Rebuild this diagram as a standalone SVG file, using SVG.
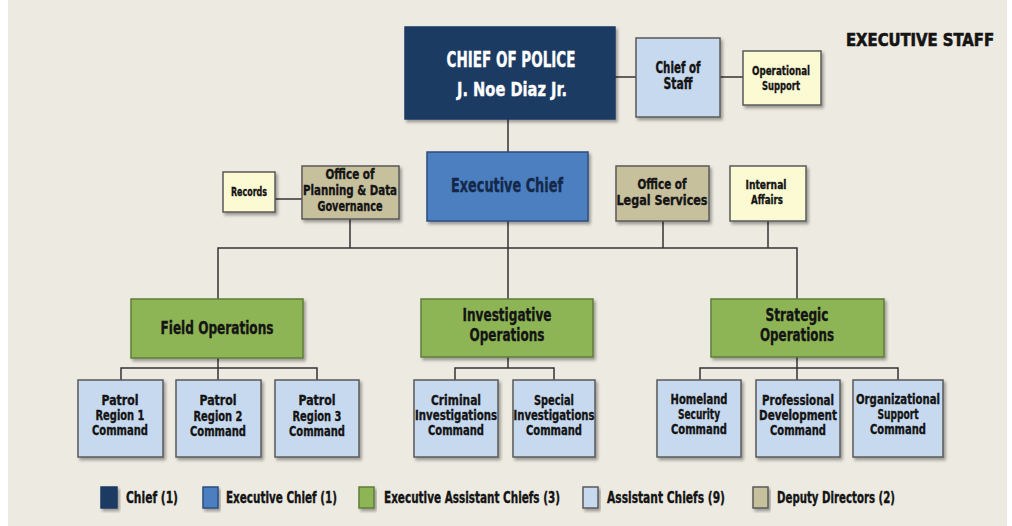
<svg xmlns="http://www.w3.org/2000/svg" width="1012" height="526" viewBox="0 0 1012 526">
<defs>
<filter id="sh" x="-10%" y="-10%" width="130%" height="130%">
<feDropShadow dx="2" dy="2.5" stdDeviation="1.5" flood-color="#000" flood-opacity="0.35"/>
</filter>
<style>
.b{stroke:#5a5a5a;stroke-width:1.5;filter:url(#sh)}
.navy{fill:#1b3a63;stroke:#1b3a63}
.blue{fill:#4b7fc0;stroke:#2c4e80}
.green{fill:#8db554;stroke:#5f7d38}
.lb{fill:#c7d9ef}
.kh{fill:#c7c09d}
.ye{fill:#fcfad3}
text{font-family:"Liberation Sans Narrow","DejaVu Sans Condensed","Liberation Sans",sans-serif;font-weight:bold;text-anchor:middle;fill:#141414;stroke:#141414;stroke-width:0.35}
.w{fill:#ffffff;stroke:#ffffff}
.nv{fill:#14284a;stroke:#14284a}
.lg{text-anchor:start}
.s{font-size:14px}
#connectors line,#connectors path{stroke:#333;stroke-width:1.5;fill:none}
</style>
</defs>
<rect x="0" y="0" width="1012" height="526" fill="#ffffff"/>
<rect x="8" y="0" width="999" height="526" fill="#edeae1"/>

<text x="920" y="46" font-size="17.5" style="stroke-width:0.6" textLength="148" lengthAdjust="spacingAndGlyphs">EXECUTIVE STAFF</text>

<g id="connectors">
<line x1="615" y1="77" x2="636" y2="77"/>
<line x1="720" y1="77" x2="743" y2="77"/>
<line x1="508" y1="119" x2="508" y2="152"/>
<line x1="275" y1="199" x2="302" y2="199"/>
<line x1="508" y1="221" x2="508" y2="299"/>
<line x1="350" y1="219" x2="350" y2="248"/>
<line x1="663" y1="221" x2="663" y2="248"/>
<line x1="768" y1="221" x2="768" y2="248"/>
<path d="M218 300 V248 H797 V299"/>
<line x1="218" y1="358" x2="218" y2="380"/>
<path d="M121 380 V368 H317 V380"/>
<line x1="508" y1="357" x2="508" y2="368"/>
<path d="M455 380 V368 H554 V380"/>
<line x1="797" y1="357" x2="797" y2="380"/>
<path d="M700 380 V368 H898 V380"/>
</g>

<g id="chief">
<rect class="b navy" x="405" y="27" width="210" height="92"/>
<text class="w" x="511" y="67" font-size="21" textLength="129" lengthAdjust="spacingAndGlyphs">CHIEF OF POLICE</text>
<text class="w" x="512" y="96" font-size="20" textLength="110" lengthAdjust="spacingAndGlyphs">J. Noe Diaz Jr.</text>
</g>

<g id="chief-of-staff">
<rect class="b lb" x="636" y="38" width="84" height="79"/>
<text x="678" y="73" font-size="15" textLength="45" lengthAdjust="spacingAndGlyphs">Chief of</text>
<text x="678" y="89" font-size="15" textLength="29" lengthAdjust="spacingAndGlyphs">Staff</text>
</g>

<g id="operational-support">
<rect class="b ye" x="743" y="51" width="78" height="54"/>
<text x="781" y="75" font-size="13" textLength="58" lengthAdjust="spacingAndGlyphs">Operational</text>
<text x="781" y="90" font-size="13" textLength="38" lengthAdjust="spacingAndGlyphs">Support</text>
</g>

<g id="executive-chief">
<rect class="b blue" x="427" y="152" width="161" height="69"/>
<text class="nv" x="507" y="192" font-size="19" textLength="112" lengthAdjust="spacingAndGlyphs">Executive Chief</text>
</g>

<g id="records">
<rect class="b ye" x="223" y="172" width="52" height="40"/>
<text x="249" y="196" font-size="12" textLength="36" lengthAdjust="spacingAndGlyphs">Records</text>
</g>

<g id="planning">
<rect class="b kh" x="302" y="166" width="97" height="53"/>
<text x="350" y="179" font-size="14" textLength="49" lengthAdjust="spacingAndGlyphs">Office of</text>
<text x="350" y="195" font-size="14" textLength="94" lengthAdjust="spacingAndGlyphs">Planning &amp; Data</text>
<text x="350" y="211" font-size="14" textLength="65" lengthAdjust="spacingAndGlyphs">Governance</text>
</g>

<g id="legal">
<rect class="b kh" x="616" y="166" width="93" height="55"/>
<text x="662" y="189" font-size="14" textLength="49" lengthAdjust="spacingAndGlyphs">Office of</text>
<text x="662" y="205" font-size="14" textLength="91" lengthAdjust="spacingAndGlyphs">Legal Services</text>
</g>

<g id="internal-affairs">
<rect class="b ye" x="730" y="166" width="76" height="55"/>
<text x="766" y="189" font-size="13" textLength="41" lengthAdjust="spacingAndGlyphs">Internal</text>
<text x="767" y="204" font-size="13" textLength="32" lengthAdjust="spacingAndGlyphs">Affairs</text>
</g>

<g id="field-operations">
<rect class="b green" x="131" y="299" width="172" height="59"/>
<text x="217" y="334" font-size="18" textLength="113" lengthAdjust="spacingAndGlyphs">Field Operations</text>
</g>

<g id="investigative-operations">
<rect class="b green" x="421" y="299" width="172" height="58"/>
<text x="507" y="321" font-size="18" textLength="89" lengthAdjust="spacingAndGlyphs">Investigative</text>
<text x="507" y="341" font-size="18" textLength="75" lengthAdjust="spacingAndGlyphs">Operations</text>
</g>

<g id="strategic-operations">
<rect class="b green" x="711" y="299" width="173" height="58"/>
<text x="797" y="321" font-size="18" textLength="63" lengthAdjust="spacingAndGlyphs">Strategic</text>
<text x="797" y="341" font-size="18" textLength="74" lengthAdjust="spacingAndGlyphs">Operations</text>
</g>

<g id="patrol-1">
<rect class="b lb" x="78" y="380" width="85" height="77"/>
<text class="s" x="120" y="405" textLength="37" lengthAdjust="spacingAndGlyphs">Patrol</text>
<text class="s" x="120" y="420" textLength="49" lengthAdjust="spacingAndGlyphs">Region 1</text>
<text class="s" x="120" y="435" textLength="56" lengthAdjust="spacingAndGlyphs">Command</text>
</g>

<g id="patrol-2">
<rect class="b lb" x="176" y="380" width="85" height="77"/>
<text class="s" x="218" y="405" textLength="37" lengthAdjust="spacingAndGlyphs">Patrol</text>
<text class="s" x="218" y="421" textLength="49" lengthAdjust="spacingAndGlyphs">Region 2</text>
<text class="s" x="218" y="436" textLength="56" lengthAdjust="spacingAndGlyphs">Command</text>
</g>

<g id="patrol-3">
<rect class="b lb" x="275" y="380" width="84" height="77"/>
<text class="s" x="317" y="405" textLength="37" lengthAdjust="spacingAndGlyphs">Patrol</text>
<text class="s" x="317" y="421" textLength="49" lengthAdjust="spacingAndGlyphs">Region 3</text>
<text class="s" x="317" y="436" textLength="56" lengthAdjust="spacingAndGlyphs">Command</text>
</g>

<g id="criminal-investigations">
<rect class="b lb" x="414" y="380" width="84" height="77"/>
<text class="s" x="456" y="405" textLength="50" lengthAdjust="spacingAndGlyphs">Criminal</text>
<text class="s" x="456" y="420" textLength="82" lengthAdjust="spacingAndGlyphs">Investigations</text>
<text class="s" x="456" y="435" textLength="56" lengthAdjust="spacingAndGlyphs">Command</text>
</g>

<g id="special-investigations">
<rect class="b lb" x="513" y="380" width="82" height="77"/>
<text class="s" x="554" y="405" textLength="40" lengthAdjust="spacingAndGlyphs">Special</text>
<text class="s" x="554" y="420" textLength="81" lengthAdjust="spacingAndGlyphs">Investigations</text>
<text class="s" x="554" y="435" textLength="56" lengthAdjust="spacingAndGlyphs">Command</text>
</g>

<g id="homeland-security">
<rect class="b lb" x="657" y="380" width="84" height="77"/>
<text class="s" x="699" y="404" textLength="57" lengthAdjust="spacingAndGlyphs">Homeland</text>
<text class="s" x="699" y="419" textLength="42" lengthAdjust="spacingAndGlyphs">Security</text>
<text class="s" x="699" y="434" textLength="56" lengthAdjust="spacingAndGlyphs">Command</text>
</g>

<g id="professional-development">
<rect class="b lb" x="756" y="380" width="84" height="77"/>
<text class="s" x="798" y="405" textLength="72" lengthAdjust="spacingAndGlyphs">Professional</text>
<text class="s" x="798" y="420" textLength="78" lengthAdjust="spacingAndGlyphs">Development</text>
<text class="s" x="798" y="435" textLength="56" lengthAdjust="spacingAndGlyphs">Command</text>
</g>

<g id="organizational-support">
<rect class="b lb" x="853" y="380" width="90" height="77"/>
<text class="s" x="898" y="404" textLength="84" lengthAdjust="spacingAndGlyphs">Organizational</text>
<text class="s" x="898" y="419" textLength="41" lengthAdjust="spacingAndGlyphs">Support</text>
<text class="s" x="898" y="434" textLength="56" lengthAdjust="spacingAndGlyphs">Command</text>
</g>

<g id="legend">
<rect class="b navy" x="101" y="487" width="16" height="21"/>
<text class="lg" x="126" y="503" font-size="15" textLength="52" lengthAdjust="spacingAndGlyphs">Chief (1)</text>
<rect class="b blue" x="203" y="487" width="15" height="21"/>
<text class="lg" x="226" y="503" font-size="15" textLength="111" lengthAdjust="spacingAndGlyphs">Executive Chief (1)</text>
<rect class="b green" x="359" y="487" width="15" height="21"/>
<text class="lg" x="384" y="503" font-size="15" textLength="176" lengthAdjust="spacingAndGlyphs">Executive Assistant Chiefs (3)</text>
<rect class="b lb" x="583" y="487" width="15" height="21"/>
<text class="lg" x="607" y="503" font-size="15" textLength="118" lengthAdjust="spacingAndGlyphs">Assistant Chiefs (9)</text>
<rect class="b kh" x="753" y="487" width="15" height="21"/>
<text class="lg" x="777" y="503" font-size="15" textLength="118" lengthAdjust="spacingAndGlyphs">Deputy Directors (2)</text>
</g>
</svg>
